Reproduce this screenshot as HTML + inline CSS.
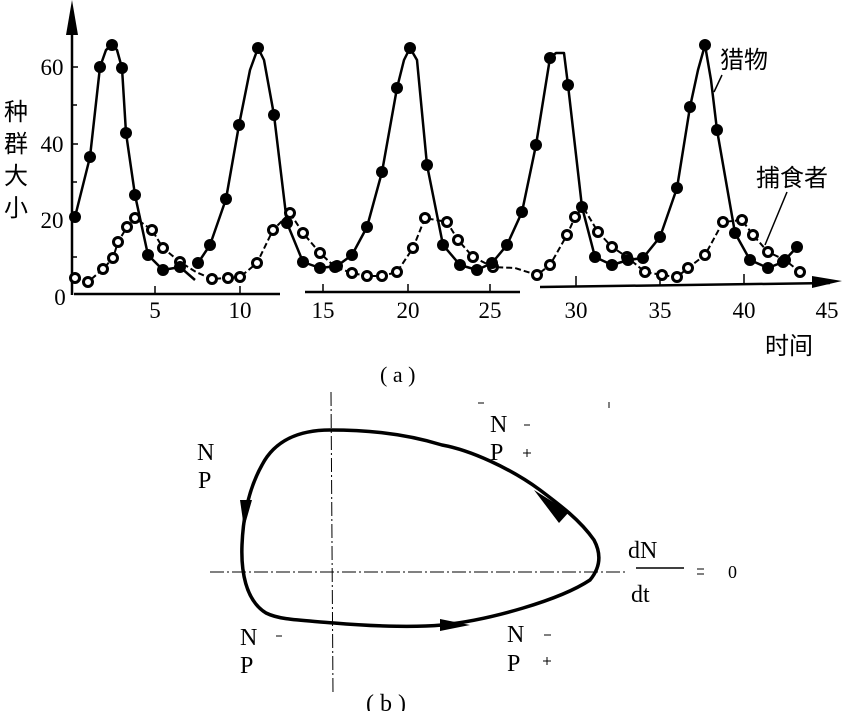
<!DOCTYPE html>
<html><head><meta charset="utf-8"><style>
html,body{margin:0;padding:0;background:#fff}
svg{display:block}
text{font-family:"Liberation Serif","Noto Serif CJK SC",serif;fill:#000}
.cjk{font-family:"Liberation Sans","Noto Sans CJK SC",sans-serif;font-weight:normal}
</style></head><body>
<svg width="864" height="711" viewBox="0 0 864 711" xmlns="http://www.w3.org/2000/svg">
<line x1="72" y1="295" x2="72" y2="15" stroke="#000" stroke-width="2.5"/>
<polygon points="72,0 66,35 78,35" fill="#000"/>
<line x1="74" y1="294" x2="280" y2="294" stroke="#000" stroke-width="2.5"/>
<line x1="305" y1="292" x2="520" y2="292" stroke="#000" stroke-width="2.5"/>
<line x1="540" y1="287" x2="830" y2="283" stroke="#000" stroke-width="2.5"/>
<polygon points="842,281 812,276 812,288" fill="#000"/>
<g stroke="#000" stroke-width="1.5">
<line x1="72" y1="67" x2="78" y2="67"/><line x1="72" y1="105" x2="77" y2="105"/>
<line x1="72" y1="144" x2="78" y2="144"/><line x1="72" y1="182" x2="77" y2="182"/>
<line x1="72" y1="220" x2="78" y2="220"/><line x1="72" y1="257" x2="77" y2="257"/>
<line x1="155" y1="294" x2="155" y2="286"/><line x1="240" y1="294" x2="240" y2="286"/>
<line x1="323" y1="292" x2="323" y2="284"/><line x1="408" y1="292" x2="408" y2="284"/>
<line x1="490" y1="292" x2="490" y2="284"/><line x1="576" y1="286" x2="576" y2="276"/>
<line x1="660" y1="285" x2="660" y2="275"/><line x1="744" y1="284" x2="744" y2="274"/>
</g>
<g font-size="23">
<text x="52" y="75" text-anchor="middle">60</text>
<text x="52" y="152" text-anchor="middle">40</text>
<text x="52" y="228" text-anchor="middle">20</text>
<text x="60" y="305" text-anchor="middle">0</text>
<text x="155" y="318" text-anchor="middle">5</text>
<text x="240" y="318" text-anchor="middle">10</text>
<text x="323" y="318" text-anchor="middle">15</text>
<text x="408" y="318" text-anchor="middle">20</text>
<text x="490" y="318" text-anchor="middle">25</text>
<text x="576" y="318" text-anchor="middle">30</text>
<text x="660" y="318" text-anchor="middle">35</text>
<text x="744" y="318" text-anchor="middle">40</text>
<text x="827" y="318" text-anchor="middle">45</text>
</g>
<g class="cjk" font-size="24">
<text x="4" y="120" class="cjk">种</text>
<text x="4" y="152" class="cjk">群</text>
<text x="4" y="184" class="cjk">大</text>
<text x="4" y="216" class="cjk">小</text>
<text x="720" y="68" class="cjk">猎物</text>
<text x="756" y="186" class="cjk">捕食者</text>
<text x="765" y="354" class="cjk">时间</text>
</g>
<line x1="722" y1="75" x2="714" y2="92" stroke="#000" stroke-width="1.5"/>
<line x1="787" y1="192" x2="765" y2="245" stroke="#000" stroke-width="1.5"/>
<text x="380" y="382" font-size="22">( a )</text>
<polyline fill="none" stroke="#000" stroke-width="2" stroke-dasharray="6,3" points="75,278 88,282 103,269 113,258 118,242 127,227 135,218 152,230 163,248 180,262 196,272 212,279 228,278 240,277 257,263 273,230 290,213 303,233 320,253 335,267 352,273 367,276 382,276 397,272 413,248 425,218 447,222 458,240 473,257 493,267 515,268 537,275 550,265 567,235 575,217 583,207 598,232 612,247 627,257 645,272 662,275 677,277 688,268 705,255 723,222 742,220 753,235 768,252 785,260 800,272"/>
<g fill="#fff" stroke="#000" stroke-width="3">
<circle cx="75" cy="278" r="4.5"/><circle cx="88" cy="282" r="4.5"/><circle cx="103" cy="269" r="4.5"/><circle cx="113" cy="258" r="4.5"/><circle cx="118" cy="242" r="4.5"/><circle cx="127" cy="227" r="4.5"/><circle cx="135" cy="218" r="4.5"/><circle cx="152" cy="230" r="4.5"/><circle cx="163" cy="248" r="4.5"/><circle cx="180" cy="262" r="4.5"/><circle cx="212" cy="279" r="4.5"/><circle cx="228" cy="278" r="4.5"/><circle cx="240" cy="277" r="4.5"/><circle cx="257" cy="263" r="4.5"/><circle cx="273" cy="230" r="4.5"/><circle cx="290" cy="213" r="4.5"/><circle cx="303" cy="233" r="4.5"/><circle cx="320" cy="253" r="4.5"/><circle cx="335" cy="267" r="4.5"/><circle cx="352" cy="273" r="4.5"/><circle cx="367" cy="276" r="4.5"/><circle cx="382" cy="276" r="4.5"/><circle cx="397" cy="272" r="4.5"/><circle cx="413" cy="248" r="4.5"/><circle cx="425" cy="218" r="4.5"/><circle cx="447" cy="222" r="4.5"/><circle cx="458" cy="240" r="4.5"/><circle cx="473" cy="257" r="4.5"/><circle cx="493" cy="267" r="4.5"/><circle cx="537" cy="275" r="4.5"/><circle cx="550" cy="265" r="4.5"/><circle cx="567" cy="235" r="4.5"/><circle cx="575" cy="217" r="4.5"/><circle cx="598" cy="232" r="4.5"/><circle cx="612" cy="247" r="4.5"/><circle cx="627" cy="257" r="4.5"/><circle cx="645" cy="272" r="4.5"/><circle cx="662" cy="275" r="4.5"/><circle cx="677" cy="277" r="4.5"/><circle cx="688" cy="268" r="4.5"/><circle cx="705" cy="255" r="4.5"/><circle cx="723" cy="222" r="4.5"/><circle cx="742" cy="220" r="4.5"/><circle cx="753" cy="235" r="4.5"/><circle cx="768" cy="252" r="4.5"/><circle cx="785" cy="260" r="4.5"/><circle cx="800" cy="272" r="4.5"/>
</g>
<polyline fill="none" stroke="#000" stroke-width="2.5" stroke-linejoin="round" points="75,217 90,157 100,67 106,50 112,45 117,50 122,68 126,133 135,195 148,255 163,270 180,267 195,280"/>
<polyline fill="none" stroke="#000" stroke-width="2.5" stroke-linejoin="round" points="198,263 210,245 226,199 239,125 250,70 258,48 264,60 274,115 287,223 303,262 320,268 337,266 352,255 367,227 382,172 397,88 404,60 410,48 417,60 427,165 443,245 460,265 477,270 492,263 507,245 522,212 536,145 550,58 556,53 564,53 568,85 582,207 595,257 612,265 628,260 643,258 660,237 677,188 690,107 698,70 705,45 711,80 717,130 735,233 750,260 768,268 783,262 797,247"/>
<g fill="#000">
<circle cx="75" cy="217" r="6"/><circle cx="90" cy="157" r="6"/><circle cx="100" cy="67" r="6"/><circle cx="112" cy="45" r="6"/><circle cx="122" cy="68" r="6"/><circle cx="126" cy="133" r="6"/><circle cx="135" cy="195" r="6"/><circle cx="148" cy="255" r="6"/><circle cx="163" cy="270" r="6"/><circle cx="180" cy="267" r="6"/><circle cx="198" cy="263" r="6"/><circle cx="210" cy="245" r="6"/><circle cx="226" cy="199" r="6"/><circle cx="239" cy="125" r="6"/><circle cx="258" cy="48" r="6"/><circle cx="274" cy="115" r="6"/><circle cx="287" cy="223" r="6"/><circle cx="303" cy="262" r="6"/><circle cx="320" cy="268" r="6"/><circle cx="337" cy="266" r="6"/><circle cx="352" cy="255" r="6"/><circle cx="367" cy="227" r="6"/><circle cx="382" cy="172" r="6"/><circle cx="397" cy="88" r="6"/><circle cx="410" cy="48" r="6"/><circle cx="427" cy="165" r="6"/><circle cx="443" cy="245" r="6"/><circle cx="460" cy="265" r="6"/><circle cx="477" cy="270" r="6"/><circle cx="492" cy="263" r="6"/><circle cx="507" cy="245" r="6"/><circle cx="522" cy="212" r="6"/><circle cx="536" cy="145" r="6"/><circle cx="550" cy="58" r="6"/><circle cx="568" cy="85" r="6"/><circle cx="582" cy="207" r="6"/><circle cx="595" cy="257" r="6"/><circle cx="612" cy="265" r="6"/><circle cx="628" cy="260" r="6"/><circle cx="643" cy="258" r="6"/><circle cx="660" cy="237" r="6"/><circle cx="677" cy="188" r="6"/><circle cx="690" cy="107" r="6"/><circle cx="705" cy="45" r="6"/><circle cx="717" cy="130" r="6"/><circle cx="735" cy="233" r="6"/><circle cx="750" cy="260" r="6"/><circle cx="768" cy="268" r="6"/><circle cx="783" cy="262" r="6"/><circle cx="797" cy="247" r="6"/>
</g>
<line x1="331" y1="392" x2="333" y2="695" stroke="#000" stroke-width="1" stroke-dasharray="14,3,2,3"/>
<line x1="210" y1="572" x2="625" y2="572" stroke="#000" stroke-width="1" stroke-dasharray="14,3,2,3"/>
<path d="M330,430 C300,430 275,440 262,465 C248,490 243,520 242,545 C241,570 245,600 266,613 C280,620 300,620 334,623 C380,627 420,627 442,625 C490,620 560,600 590,580 C600,568 602,555 594,540 C580,520 560,505 540,490 C510,468 470,450 442,445 C400,432 360,430 330,430 Z" fill="none" stroke="#000" stroke-width="3.5"/>
<polygon points="240,500 252,500 244,528" fill="#000"/>
<polygon points="470,625 440,619 440,631" fill="#000"/>
<polygon points="534,490 569,512 559,523" fill="#000"/>
<g font-size="24">
<text x="197" y="460">N</text><text x="198" y="488">P</text>
<text x="490" y="432">N</text><text x="490" y="460">P</text>
<text x="240" y="645">N</text><text x="240" y="673">P</text>
<text x="507" y="642">N</text><text x="507" y="671">P</text>
<text x="628" y="558">dN</text><text x="631" y="602">dt</text>
<text x="366" y="711">( b )</text>
<text x="728" y="578" font-size="18">0</text>
</g>
<line x1="636" y1="568" x2="684" y2="568" stroke="#000" stroke-width="1.5"/>
<g stroke="#000" stroke-width="1">
<line x1="524" y1="425" x2="530" y2="425"/><line x1="523" y1="453" x2="531" y2="453"/><line x1="527" y1="449" x2="527" y2="457"/>
<line x1="276" y1="636" x2="282" y2="636"/>
<line x1="544" y1="635" x2="551" y2="635"/><line x1="543" y1="661" x2="551" y2="661"/><line x1="547" y1="657" x2="547" y2="665"/>
<line x1="697" y1="569" x2="704" y2="569"/><line x1="697" y1="574" x2="704" y2="574"/>
<line x1="478" y1="403" x2="484" y2="403"/><line x1="609" y1="402" x2="609" y2="408"/>
</g>
</svg>
</body></html>
